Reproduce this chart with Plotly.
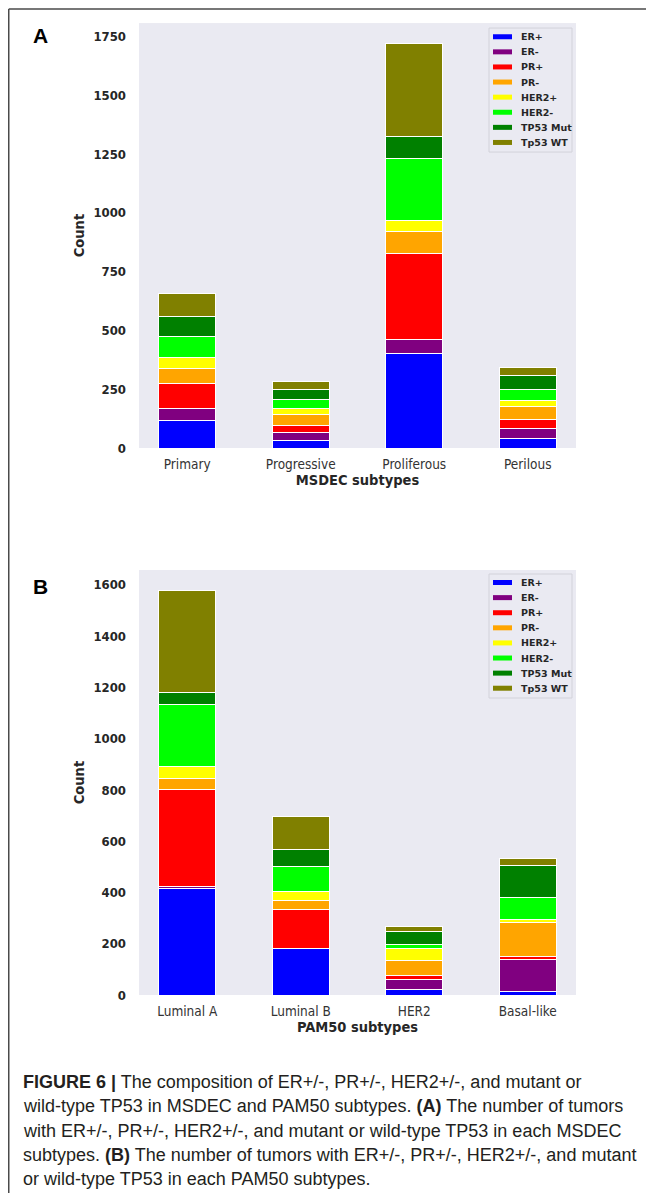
import plotly.graph_objects as go

# ---- data ----
msdec_subtypes = ["Primary", "Progressive", "Proliferous", "Perilous"]
pam50_subtypes = ["Luminal A", "Luminal B", "HER2", "Basal-like"]
series_names = ["ER+", "ER-", "PR+", "PR-", "HER2+", "HER2-", "TP53 Mut", "Tp53 WT"]
series_colors = ["#0000FF", "#800080", "#FF0000", "#FFA500", "#FFFF00", "#00FF00", "#008000", "#808000"]

msdec_er_pos = [116, 31, 404, 41]
msdec_er_neg = [53, 37, 56, 44]
msdec_pr_pos = [106, 29, 367, 38]
msdec_pr_neg = [64, 46, 94, 54]
msdec_her2_pos = [47, 24, 45, 25]
msdec_her2_neg = [88, 40, 267, 46]
msdec_tp53_mut = [87, 41, 90, 59]
msdec_tp53_wt = [95, 34, 398, 36]

pam50_er_pos = [414, 181, 21, 13]
pam50_er_neg = [10, 2, 40, 126]
pam50_pr_pos = [377, 150, 17, 11]
pam50_pr_neg = [45, 35, 56, 131]
pam50_her2_pos = [45, 37, 47, 12]
pam50_her2_neg = [243, 96, 15, 88]
pam50_tp53_mut = [48, 65, 50, 126]
pam50_tp53_wt = [397, 129, 22, 24]

msdec_ticks = [0, 250, 500, 750, 1000, 1250, 1500, 1750]
pam50_ticks = [0, 200, 400, 600, 800, 1000, 1200, 1400, 1600]

msdec_series = [msdec_er_pos, msdec_er_neg, msdec_pr_pos, msdec_pr_neg,
                msdec_her2_pos, msdec_her2_neg, msdec_tp53_mut, msdec_tp53_wt]
pam50_series = [pam50_er_pos, pam50_er_neg, pam50_pr_pos, pam50_pr_neg,
                pam50_her2_pos, pam50_her2_neg, pam50_tp53_mut, pam50_tp53_wt]

# page is 654x1201; the html body has an 8px margin at the top-left
OX, OY = 8, 8
W, H = 654 - OX, 1201 - OY
YS = 1.0067  # vertical correction measured against the reference
BG = "#EAEAF2"
FONT = "DejaVu Sans Condensed, DejaVu Sans, sans-serif"


def px_x(x):
    return (x - OX) / W


def px_y(y):
    return 1 - (y * YS - OY) / H


fig = go.Figure()

for name, color, vals in zip(series_names, series_colors, msdec_series):
    fig.add_trace(go.Bar(
        x=msdec_subtypes, y=vals, name=name, marker_color=color,
        marker_line=dict(color="white", width=1),
        xaxis="x", yaxis="y", showlegend=False,
    ))

for name, color, vals in zip(series_names, series_colors, pam50_series):
    fig.add_trace(go.Bar(
        x=pam50_subtypes, y=vals, name=name, marker_color=color,
        marker_line=dict(color="white", width=1),
        xaxis="x2", yaxis="y2", showlegend=False,
    ))

total_a = max(sum(v) for v in zip(*msdec_series))
total_b = max(sum(v) for v in zip(*pam50_series))

tick_font = dict(family=FONT, size=13, color="#262626", weight="bold")
xtick_font = dict(family=FONT, size=13.5, color="#333333")
title_font = dict(family=FONT, size=14.5, color="#262626", weight="bold")

common_x = dict(
    showgrid=False, zeroline=False, showline=False, ticks="",
    tickfont=xtick_font, range=[-0.425, 3.425], type="category",
    domain=[px_x(139), px_x(576)], ticklabelstandoff=6,
)
common_y = dict(
    showgrid=False, zeroline=False, showline=False, ticks="",
    tickfont=tick_font, ticklabelstandoff=12,
)

fig.update_layout(
    width=W, height=H,
    margin=dict(l=0, r=0, t=0, b=0),
    paper_bgcolor="white",
    plot_bgcolor=BG,
    barmode="stack",
    bargap=0.5,
    showlegend=False,
    xaxis=dict(common_x, anchor="y",
               title=dict(text="MSDEC subtypes", font=title_font, standoff=4)),
    yaxis=dict(common_y, anchor="x", domain=[px_y(448), px_y(23)],
               range=[0, total_a * 1.05], tickvals=msdec_ticks,
               title=dict(text="Count", font=title_font, standoff=5)),
    xaxis2=dict(common_x, anchor="y2",
                title=dict(text="PAM50 subtypes", font=title_font, standoff=4)),
    yaxis2=dict(common_y, anchor="x2", domain=[px_y(995), px_y(570)],
                range=[0, total_b * 1.05], tickvals=pam50_ticks,
                title=dict(text="Count", font=title_font, standoff=5)),
)

# legends (matplotlib-style: flat colour patches, compact rows)
legend_boxes = [(489, 28, 572, 152, 36.7), (489, 574, 572, 698, 582.5)]
for (bx0, by0, bx1, by1, first_y) in legend_boxes:
    fig.add_shape(type="rect", xref="paper", yref="paper",
                  x0=px_x(bx0), x1=px_x(bx1), y0=px_y(by1), y1=px_y(by0),
                  fillcolor=BG, line=dict(color="#D2D2DA", width=1), layer="above")
    for i, (name, color) in enumerate(zip(series_names, series_colors)):
        cy = first_y + i * 15.1
        fig.add_shape(type="rect", xref="paper", yref="paper",
                      x0=px_x(493), x1=px_x(512), y0=px_y(cy + 2.5), y1=px_y(cy - 2.5),
                      fillcolor=color, line=dict(width=0), layer="above")
        fig.add_annotation(text=f"<b>{name}</b>", x=px_x(519), y=px_y(cy),
                           xref="paper", yref="paper", xanchor="left", yanchor="middle",
                           showarrow=False,
                           font=dict(family="DejaVu Sans, sans-serif", size=9.5, color="#262626"))

# panel labels
for label, (lx, ly) in {"A": (40, 35), "B": (40, 586)}.items():
    fig.add_annotation(text=f"<b>{label}</b>", x=px_x(lx), y=px_y(ly),
                       xref="paper", yref="paper", showarrow=False,
                       xanchor="center", yanchor="middle",
                       font=dict(family="Liberation Sans, Arial, sans-serif", size=21, color="black"))

# frame
fig.add_shape(type="line", xref="paper", yref="paper",
              x0=px_x(8.75), x1=1, y0=px_y(9), y1=px_y(9),
              line=dict(color="#4A4A4A", width=1.5))
fig.add_shape(type="line", xref="paper", yref="paper",
              x0=px_x(8.75), x1=px_x(8.75), y0=px_y(9), y1=0,
              line=dict(color="#4A4A4A", width=1.5))

# caption
caption_lines = [
    "<b>FIGURE 6 |</b> The composition of ER+/-, PR+/-, HER2+/-, and mutant or",
    "wild-type TP53 in MSDEC and PAM50 subtypes. <b>(A)</b> The number of tumors",
    "with ER+/-, PR+/-, HER2+/-, and mutant or wild-type TP53 in each MSDEC",
    "subtypes. <b>(B)</b> The number of tumors with ER+/-, PR+/-, HER2+/-, and mutant",
    "or wild-type TP53 in each PAM50 subtypes.",
]
cap_y = [1082, 1106.5, 1131, 1155, 1179.5]
for line, yy in zip(caption_lines, cap_y):
    fig.add_annotation(text=line, x=px_x(21), y=px_y(yy), xref="paper", yref="paper",
                       xanchor="left", yanchor="middle", showarrow=False,
                       font=dict(family="Liberation Sans, Arial, sans-serif",
                                 size=18, color="#231F20"))

fig.write_html("out.html")
